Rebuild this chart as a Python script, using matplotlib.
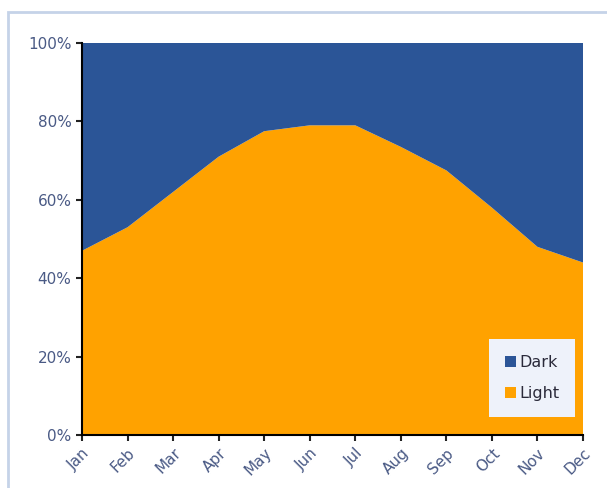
import numpy as np
import matplotlib.pyplot as plt
from matplotlib.patches import Rectangle
from matplotlib.ticker import PercentFormatter

months = ['Jan', 'Feb', 'Mar', 'Apr', 'May', 'Jun',
          'Jul', 'Aug', 'Sep', 'Oct', 'Nov', 'Dec']
light = [47, 53, 62, 71, 77.5, 79, 79, 73.5, 67.5, 58, 48, 44]
dark = [100 - v for v in light]

fig = plt.figure(figsize=(6.07, 4.88), dpi=100)
ax = fig.add_axes([82 / 607, 1 - 435 / 488, 501 / 607, 392 / 488])

# chart area frame
fig.patches.append(Rectangle((8 / 607, -0.1), 1.2, 1 - 12 / 488 + 0.1,
                             transform=fig.transFigure, fill=False,
                             edgecolor='#c5d3e8', linewidth=2))

x = np.arange(len(months))
ax.stackplot(x, light, dark, colors=['#FFA200', '#2B5597'],
             labels=['Light', 'Dark'])

ax.set_xlim(0, len(months) - 1)
ax.set_ylim(0, 100)
ax.set_yticks(np.arange(0, 101, 20))
ax.yaxis.set_major_formatter(PercentFormatter(decimals=0))
ax.set_xticks(x)
ax.set_xticklabels(months, rotation=45, ha='right', rotation_mode='anchor')
ax.tick_params(colors='#222222', labelcolor='#4a5a85', labelsize=11,
               direction='out', length=4, width=1.5)
for side in ['top', 'right']:
    ax.spines[side].set_visible(False)
for side in ['left', 'bottom']:
    ax.spines[side].set_linewidth(1.5)

handles, labels = ax.get_legend_handles_labels()
leg = ax.legend(handles[::-1], labels[::-1], loc='lower right',
                bbox_to_anchor=(0.985, 0.045), fontsize=11.5,
                handlelength=0.7, handleheight=0.7, handletextpad=0.2,
                labelspacing=1.0, borderpad=1.0, borderaxespad=0,
                fancybox=False, framealpha=1, edgecolor='none',
                facecolor='#eef2fa')
for t in leg.get_texts():
    t.set_color('#2a2a3a')

fig.savefig('out.png', dpi=100)
